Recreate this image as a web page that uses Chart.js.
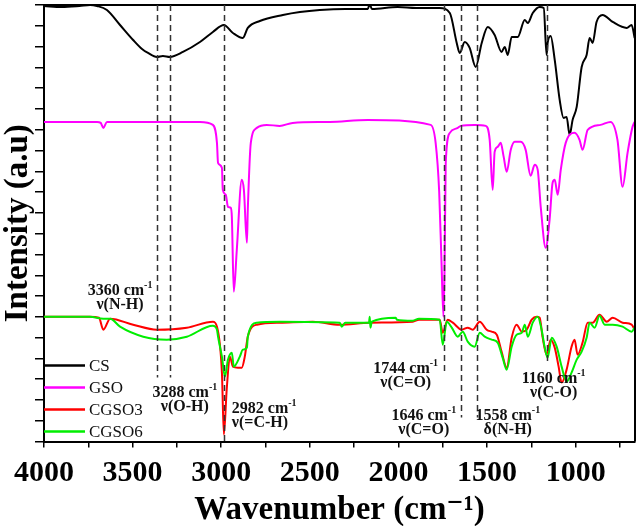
<!DOCTYPE html>
<html>
<head>
<meta charset="utf-8">
<script src="https://cdn.jsdelivr.net/npm/chart.js@4.4.1/dist/chart.umd.min.js"></script>
<style>
  html, body { margin: 0; padding: 0; background: #fff; }
</style>
</head>
<body>
<canvas id="chart" width="638" height="526"></canvas>
<script>
// FTIR spectra, wavenumber (cm-1) vs intensity (a.u., arbitrary units)
const csWave = [4000, 3900, 3800, 3740, 3701, 3645, 3571, 3497, 3447, 3413, 3363, 3329, 3290, 3216, 3120, 3047, 2985, 2934, 2878, 2850, 2782, 2652, 2556, 2444, 2300, 2173, 2162, 2150, 2004, 1900, 1767, 1710, 1671, 1654, 1626, 1598, 1564, 1530, 1496, 1457, 1418, 1400, 1383, 1361, 1327, 1287, 1270, 1242, 1203, 1180, 1164, 1158, 1141, 1118, 1090, 1068, 1051, 1034, 1017, 994, 966, 938, 921, 904, 882, 848, 791, 712, 684, 667];
const csVal = [436, 435, 436, 437, 436, 432, 417, 402, 393, 389, 385, 386, 385, 390, 400, 410, 417, 409, 404, 414, 421, 427, 430, 432, 433, 433, 438, 433, 435, 434, 434, 429, 399, 389, 400, 394, 375, 399, 415, 407, 390, 395, 387, 405, 405, 422, 419, 429, 435, 434, 387, 399, 406, 382, 342, 324, 325, 307, 322, 335, 375, 387, 404, 399, 420, 427, 420, 414, 417, 404];

const gsoWave = [4000, 3700, 3680, 3665, 3645, 3400, 3120, 3047, 3024, 3018, 2996, 2991, 2974, 2962, 2946, 2940, 2929, 2912, 2884, 2872, 2855, 2850, 2833, 2799, 2743, 2670, 2597, 2387, 2173, 1818, 1790, 1770, 1757, 1746, 1740, 1733, 1710, 1665, 1648, 1570, 1507, 1485, 1468, 1457, 1440, 1423, 1406, 1389, 1366, 1344, 1310, 1282, 1254, 1231, 1214, 1197, 1169, 1147, 1130, 1118, 1101, 1084, 1056, 1006, 978, 961, 932, 859, 803, 764, 735, 707, 679, 667];
const gsoVal = [320, 320, 319, 314, 320, 320, 320, 317, 299, 279, 274, 252, 247, 235, 234, 225, 150, 192, 262, 252, 199, 232, 299, 314, 317, 316, 319, 320, 322, 317, 299, 250, 180, 125, 170, 279, 309, 314, 316, 317, 316, 302, 252, 290, 295, 299, 285, 270, 292, 300, 300, 292, 266, 277, 272, 235, 194, 222, 259, 262, 247, 272, 299, 309, 302, 292, 312, 317, 320, 302, 255, 289, 315, 320];

const cgso3Wave = [4000, 3741, 3690, 3665, 3627, 3497, 3363, 3194, 3047, 3024, 2996, 2985, 2969, 2951, 2934, 2906, 2884, 2867, 2850, 2799, 2670, 2483, 2331, 2162, 1919, 1884, 1767, 1750, 1722, 1693, 1643, 1609, 1581, 1541, 1502, 1474, 1445, 1418, 1389, 1361, 1333, 1304, 1276, 1248, 1220, 1203, 1186, 1164, 1141, 1118, 1096, 1079, 1051, 1023, 1006, 989, 961, 932, 904, 865, 825, 791, 735, 684, 667];
const cgso3Val = [125, 125, 124, 112, 123, 117, 112, 114, 120, 115, 69, 7, 52, 85, 75, 74, 74, 85, 105, 117, 119, 120, 117, 119, 120, 122, 122, 109, 122, 119, 112, 114, 112, 120, 112, 110, 107, 90, 74, 104, 117, 110, 112, 122, 125, 124, 104, 87, 102, 94, 75, 59, 72, 95, 102, 87, 99, 119, 119, 127, 120, 124, 119, 117, 112];

const cgso6Wave = [4000, 3741, 3665, 3627, 3571, 3440, 3307, 3194, 3047, 3024, 3018, 2996, 2979, 2962, 2940, 2929, 2895, 2878, 2855, 2850, 2799, 2670, 2331, 2320, 2300, 2166, 2162, 2158, 2150, 2015, 2009, 1919, 1884, 1767, 1750, 1727, 1699, 1665, 1637, 1609, 1570, 1541, 1513, 1474, 1440, 1412, 1389, 1361, 1333, 1304, 1287, 1270, 1242, 1214, 1192, 1175, 1158, 1135, 1107, 1079, 1051, 1023, 994, 966, 938, 921, 893, 865, 836, 791, 735, 684, 667];
const cgso6Val = [125, 125, 123, 123, 115, 105, 102, 105, 116, 112, 105, 85, 65, 82, 89, 75, 85, 92, 94, 105, 119, 120, 119, 115, 119, 119, 125, 114, 120, 124, 122, 121, 123, 122, 97, 120, 114, 105, 110, 100, 95, 109, 105, 102, 99, 84, 72, 95, 107, 109, 117, 105, 119, 125, 112, 95, 84, 104, 95, 75, 60, 69, 82, 90, 104, 119, 114, 126, 117, 117, 115, 110, 114];

// marked bands
const peakWaves = [3360, 3288, 2982, 1744, 1646, 1558, 1160];
const peakBonds = ["ν(N-H)", "ν(O-H)", "ν(=C-H)", "ν(C=O)", "ν(C=O)", "δ(N-H)", "ν(C-O)"];

// where each dashed line stops (intensity) and where its label sits
const peakLayout = [
    { lineEnd: 64, labelX: 3571, labelY: 147, align: "center" },
    { lineEnd: 64, labelX: 3205, labelY: 45, align: "center" },
    { lineEnd: 0, labelX: 2940, labelY: 29, align: "left" },
    { lineEnd: 67, labelX: 1959, labelY: 69, align: "center" },
    { lineEnd: 24, labelX: 1857, labelY: 22, align: "center" },
    { lineEnd: 24, labelX: 1383, labelY: 22, align: "center" },
    { lineEnd: 77, labelX: 1124, labelY: 59, align: "center" }
];

const serif = '"Liberation Serif", "Times New Roman", "DejaVu Serif", serif';

function pts(w, v) {
    return w.map((x, i) => ({ x: x, y: v[i] }));
}

function drawLabelLine(ctx, x, y, parts, align) {
    // parts: [[text, size, raise], ...]
    let total = 0;
    parts.forEach(p => {
        ctx.font = "bold " + p[1] + "px " + serif;
        total += ctx.measureText(p[0]).width;
    });
    let cx = align === "center" ? x - total / 2 : x;
    parts.forEach(p => {
        ctx.font = "bold " + p[1] + "px " + serif;
        ctx.fillText(p[0], cx, y - p[2]);
        cx += ctx.measureText(p[0]).width;
    });
}

const extras = {
    id: "extras",
    afterDatasetsDraw(chart) {
        const ctx = chart.ctx;
        const xs = chart.scales.x;
        const ys = chart.scales.y;
        const area = chart.chartArea;
        ctx.save();

        // frame on top and right
        ctx.strokeStyle = "#000";
        ctx.lineWidth = 2;
        ctx.beginPath();
        ctx.moveTo(area.left, area.top);
        ctx.lineTo(area.right, area.top);
        ctx.lineTo(area.right, area.bottom);
        ctx.stroke();

        // dashed band lines
        ctx.strokeStyle = "#333";
        ctx.lineWidth = 1.5;
        ctx.setLineDash([6, 4]);
        peakWaves.forEach((w, i) => {
            const px = Math.round(xs.getPixelForValue(w)) + 0.5;
            ctx.beginPath();
            ctx.moveTo(px, area.top);
            ctx.lineTo(px, ys.getPixelForValue(peakLayout[i].lineEnd));
            ctx.stroke();
        });
        ctx.setLineDash([]);

        // band labels
        ctx.fillStyle = "#111";
        ctx.textBaseline = "alphabetic";
        ctx.textAlign = "left";
        peakWaves.forEach((w, i) => {
            const L = peakLayout[i];
            const lx = xs.getPixelForValue(L.labelX);
            const ly = ys.getPixelForValue(L.labelY);
            drawLabelLine(ctx, lx, ly, [[w + " cm", 16, 0], ["-1", 10, 7]], L.align);
            drawLabelLine(ctx, lx, ly + 14, [[peakBonds[i], 16, 0]], L.align);
        });

        // legend, inside the plot at bottom left
        const names = chart.data.datasets.map(d => d.label);
        names.forEach((n, i) => {
            const ds = chart.data.datasets[i];
            const y = area.bottom - 76 + i * 22;
            ctx.strokeStyle = ds.borderColor;
            ctx.lineWidth = 2.5;
            ctx.beginPath();
            ctx.moveTo(area.left, y);
            ctx.lineTo(area.left + 41, y);
            ctx.stroke();
            ctx.fillStyle = "#111";
            ctx.font = "17px " + serif;
            ctx.textBaseline = "middle";
            ctx.fillText(n, area.left + 45, y + 1);
        });
        ctx.restore();
    }
};

new Chart(
    document.querySelector("canvas#chart"),
    {
        type: "line",
        data: {
            datasets: [
                { label: "CS", data: pts(csWave, csVal), borderColor: "#000000", order: 3 },
                { label: "GSO", data: pts(gsoWave, gsoVal), borderColor: "#ff00ff", order: 2 },
                { label: "CGSO3", data: pts(cgso3Wave, cgso3Val), borderColor: "#ff0000", order: 1 },
                { label: "CGSO6", data: pts(cgso6Wave, cgso6Val), borderColor: "#00ee00", order: 0 }
            ]
        },
        options: {
            responsive: false,
            animation: false,
            events: [],
            layout: { padding: { left: 2, right: 3, top: 5, bottom: 0 } },
            elements: {
                point: { radius: 0 },
                line: { borderWidth: 2, cubicInterpolationMode: "monotone", fill: false }
            },
            plugins: {
                legend: { display: false },
                tooltip: { enabled: false }
            },
            scales: {
                x: {
                    type: "linear",
                    reverse: true,
                    min: 665,
                    max: 4000,
                    border: { display: true, color: "#000", width: 2 },
                    grid: { display: true, drawOnChartArea: false, drawTicks: true, tickLength: 6, color: "#000", lineWidth: 1.5 },
                    ticks: {
                        stepSize: 250,
                        autoSkip: false,
                        includeBounds: false,
                        maxRotation: 0,
                        color: "#000",
                        padding: 8,
                        font: { family: serif, size: 30, weight: "bold", lineHeight: 1.2 },
                        callback: v => (v % 500 === 0 ? String(v) : "")
                    },
                    title: {
                        display: true,
                        text: "Wavenumber (cm⁻¹)",
                        color: "#000",
                        padding: { top: 0, bottom: 4 },
                        font: { family: serif, size: 33, weight: "bold", lineHeight: 0.68 }
                    }
                },
                y: {
                    min: 0,
                    max: 437,
                    border: { display: true, color: "#000", width: 2 },
                    grid: { display: true, drawOnChartArea: false, drawTicks: true, tickLength: 9, color: "#000", lineWidth: 1.5 },
                    ticks: { display: false, count: 22 },
                    title: {
                        display: true,
                        text: "Intensity (a.u)",
                        color: "#000",
                        padding: { top: 0, bottom: 0 },
                        font: { family: serif, size: 33, weight: "bold", lineHeight: 1 }
                    }
                }
            }
        },
        plugins: [extras]
    }
);
</script>
</body>
</html>
